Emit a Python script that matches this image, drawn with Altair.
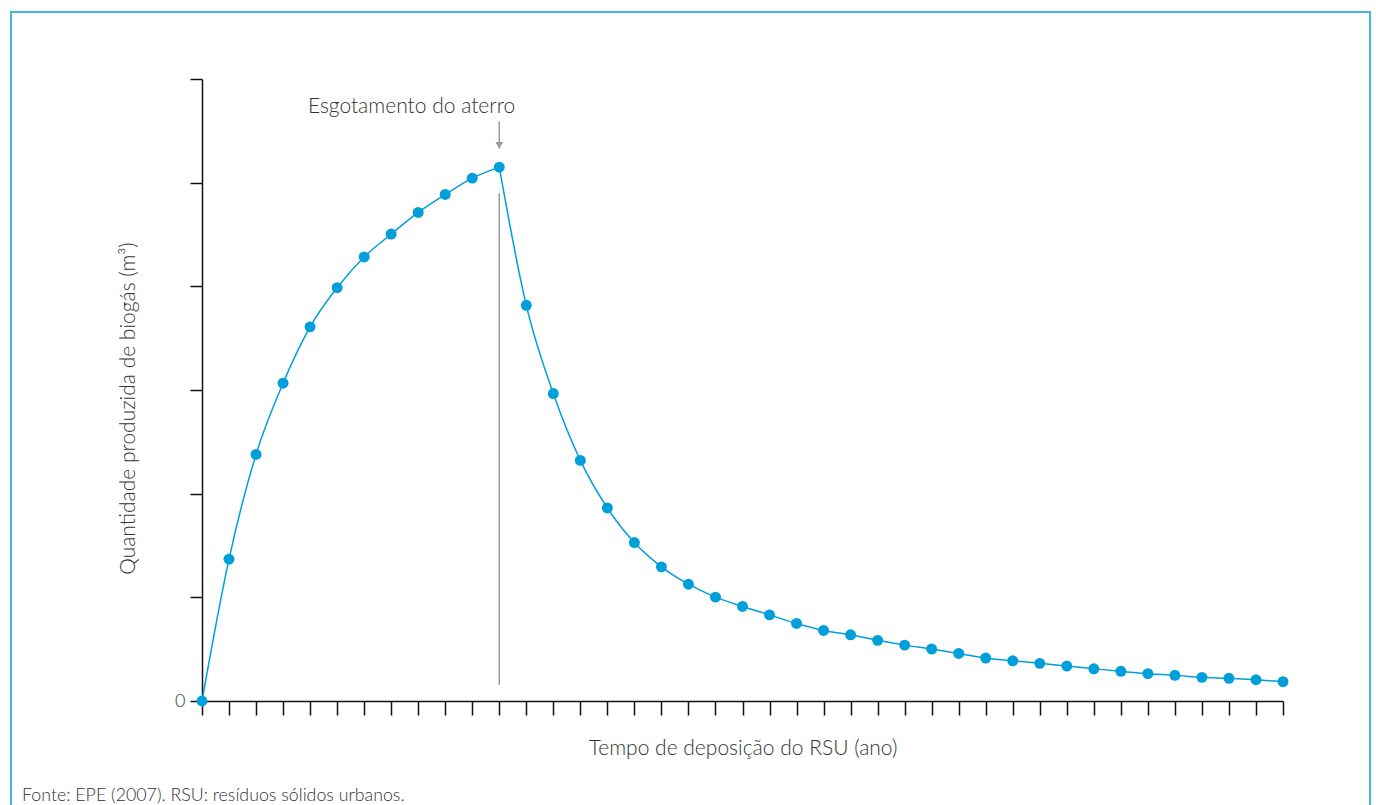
import altair as alt
import pandas as pd

# --- data ---
anos = list(range(0, 41))
biogas = [0.000, 1.368, 2.379, 3.066, 3.609, 3.987, 4.283, 4.504, 4.713, 4.886,
          5.044, 5.150, 3.817, 2.966, 2.321, 1.862, 1.528, 1.294, 1.127, 1.002,
          0.912, 0.831, 0.748, 0.681, 0.639, 0.585, 0.539, 0.501, 0.459, 0.414,
          0.388, 0.363, 0.337, 0.311, 0.286, 0.263, 0.248, 0.228, 0.219, 0.205,
          0.186]
y_ticks = [0, 1, 2, 3, 4, 5, 6]

ano_esgotamento = 11
vline_y = [4.897, 0.157]
arrow_y = [5.59, 5.33]
arrow_head_y = [5.36]
label_y = [5.669]
label_text = ["Esgotamento do aterro"]

titulo_x = "Tempo de deposição do RSU (ano)"
titulo_y = "Quantidade produzida de biogás (m³)"
fonte = "Fonte: EPE (2007). RSU: resíduos sólidos urbanos."

FONT = "Lato"
BLUE = "#009fda"
GREY = "#999999"
TXT = "#333333"

# two phases so the curve has a sharp corner at the landfill closure
rows = []
for a, v in zip(anos, biogas):
    if a <= ano_esgotamento:
        rows.append({"ano": a, "biogas": v, "fase": "operacao"})
    if a >= ano_esgotamento:
        rows.append({"ano": a, "biogas": v, "fase": "pos"})
df_line = pd.DataFrame(rows)
df = pd.DataFrame({"ano": anos, "biogas": biogas})

W, H = 1081, 622
PL, PT = 202, 79

xscale = alt.Scale(domain=[0, 40], nice=False)
yscale = alt.Scale(domain=[0, 6], nice=False)

xaxis = alt.Axis(values=anos, tickCount=200, labels=False, tickSize=14, tickColor="#111",
                 domainColor="#111", domainWidth=1.5, tickWidth=1.5, grid=False,
                 title=titulo_x, titleFont=FONT, titleFontSize=21,
                 titleFontWeight=300, titleColor=TXT, titleY=47,
                 titleBaseline="middle")
yaxis = alt.Axis(values=y_ticks, tickCount=100, labelExpr="datum.value == 0 ? '0' : ''",
                 tickSize=12, tickColor="#111", domainColor="#111",
                 domainWidth=1.5, tickWidth=1.5, grid=False,
                 labelFont=FONT, labelFontSize=18, labelFontWeight=300,
                 labelColor=TXT, labelPadding=5,
                 title=titulo_y, titleFont=FONT, titleFontSize=21,
                 titleFontWeight=300, titleColor=TXT, titleX=-74, titleY=329,
                 titleBaseline="middle", titleAlign="center", titleAngle=270)

line = alt.Chart(df_line).mark_line(color=BLUE, strokeWidth=1.5, interpolate="monotone").encode(
    x=alt.X("ano:Q", scale=xscale, axis=xaxis),
    y=alt.Y("biogas:Q", scale=yscale, axis=yaxis),
    detail="fase:N",
)

points = alt.Chart(df).mark_circle(color=BLUE, opacity=1, size=120).encode(
    x=alt.X("ano:Q", scale=xscale, axis=xaxis), y=alt.Y("biogas:Q", scale=yscale, axis=yaxis)
)

vdf = pd.DataFrame({"x": [ano_esgotamento], "y1": [vline_y[0]], "y2": [vline_y[1]]})
vline = alt.Chart(vdf).mark_rule(color=GREY, strokeWidth=1.5).encode(
    x=alt.X("x:Q", scale=xscale, axis=xaxis), y=alt.Y("y1:Q", scale=yscale, axis=yaxis), y2="y2:Q"
)

adf = pd.DataFrame({"x": [ano_esgotamento], "y1": [arrow_y[0]], "y2": [arrow_y[1]]})
arrow = alt.Chart(adf).mark_rule(color=GREY, strokeWidth=1.5).encode(
    x=alt.X("x:Q", scale=xscale, axis=xaxis), y=alt.Y("y1:Q", scale=yscale, axis=yaxis), y2="y2:Q"
)
hdf = pd.DataFrame({"x": [ano_esgotamento], "y": arrow_head_y})
head = alt.Chart(hdf).mark_point(shape="triangle-down", filled=True, color=GREY,
                                 opacity=1, size=60).encode(
    x=alt.X("x:Q", scale=xscale, axis=xaxis), y=alt.Y("y:Q", scale=yscale, axis=yaxis)
)

tdf = pd.DataFrame({"x": [ano_esgotamento], "y": label_y, "t": label_text})
label = alt.Chart(tdf).mark_text(align="right", baseline="alphabetic", dx=16,
                                 font=FONT, fontSize=21, fontWeight=300,
                                 color=TXT).encode(
    x=alt.X("x:Q", scale=xscale, axis=xaxis), y=alt.Y("y:Q", scale=yscale, axis=yaxis), text="t:N"
)

foot = alt.Chart(pd.DataFrame({"t": [fonte]})).mark_text(
    align="left", baseline="alphabetic", font=FONT, fontSize=17.8, fontWeight=300,
    color=TXT).encode(
    x=alt.value(22 - PL), y=alt.value(801 - PT), text="t:N"
)

frame = alt.Chart(pd.DataFrame({"a": [0]})).mark_rect(
    fill="transparent", stroke="#45b5e2", strokeWidth=2).encode(
    x=alt.value(11 - PL), x2=alt.value(1370 - PL),
    y=alt.value(12 - PT), y2=alt.value(830 - PT)
)

chart = alt.layer(frame, line, vline, arrow, head, points, label, foot).properties(
    width=W, height=H,
    background="white",
    autosize=alt.AutoSizeParams(type="none"),
    padding={"left": PL, "top": PT, "right": 1376 - PL - W, "bottom": 805 - PT - H},
).configure_view(strokeWidth=0, stroke="transparent")

chart.save("out.html", embed_options={"renderer": "svg", "actions": False})
